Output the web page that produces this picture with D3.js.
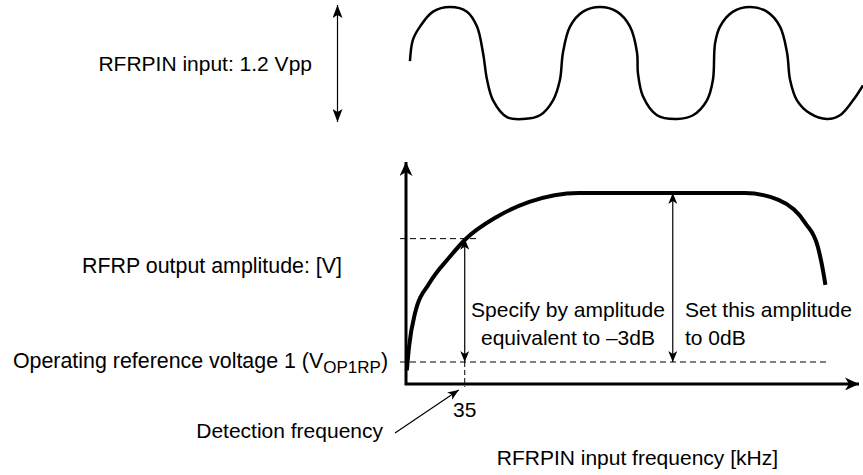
<!DOCTYPE html>
<html>
<head>
<meta charset="utf-8">
<script src="https://cdn.jsdelivr.net/npm/d3@7"></script>
<style>
  body { margin: 0; background: #fff; }
  text { font-family: Arial, "Liberation Sans", sans-serif; fill: #000; }
</style>
</head>
<body>
<div id="chart"></div>
<script>
const FRAME_WIDTH = 863;
const FRAME_HEIGHT = 475;

// input waveform, time in periods, volts
const INPUT_TIME = [-0.017, 0.003, 0.05, 0.137, 0.25, 0.363, 0.43, 0.47, 0.497, 0.537, 0.63, 0.737, 0.85, 0.937, 0.983,
                    1.003, 1.05, 1.137, 1.25, 1.363, 1.45, 1.497, 1.503, 1.537, 1.63, 1.763, 1.87, 1.963, 2.003,
                    2.017, 2.05, 2.137, 2.25, 2.363, 2.45, 2.497, 2.517, 2.563, 2.65, 2.763, 2.85, 2.937, 3.003];
const INPUT_VOLT = [0.02, 0.25, 0.39, 0.55, 0.6, 0.55, 0.39, 0.11, -0.18, -0.40, -0.58, -0.6, -0.56, -0.40, -0.18,
                    0.11, 0.39, 0.55, 0.6, 0.55, 0.39, 0.11, -0.11, -0.36, -0.56, -0.6, -0.56, -0.40, -0.18,
                    0.21, 0.39, 0.55, 0.6, 0.55, 0.39, 0.11, -0.18, -0.40, -0.54, -0.6, -0.56, -0.40, -0.24];

// output response: frequency (kHz, nominal) vs amplitude relative to 0dB level
const FREQ = [0.5, 1.8, 5.4, 14, 26, 35, 54, 73.5, 103, 202, 222, 238, 245.5, 248.5, 250];
const AMP  = [-0.05, 0.089, 0.29, 0.467, 0.621, 0.722, 0.858, 0.947, 1.0, 1.0, 0.959, 0.822, 0.68, 0.544, 0.456];

const REF_LEVEL = 0;       // V_OP1RP
const FULL_LEVEL = 1;      // 0dB
const DB3_LEVEL = 0.73;    // -3dB
const DETECT_FREQ = 35;
const FULL_FREQ = 159;
const X_TICK = ["35"];

const svg = d3.select("#chart")
  .append("svg")
    .attr("width", FRAME_WIDTH)
    .attr("height", FRAME_HEIGHT);

// arrowheads
const defs = svg.append("defs");
function marker(id, len, half, notch) {
  defs.append("marker")
      .attr("id", id)
      .attr("viewBox", `${-len} ${-half} ${len + 1} ${half * 2}`)
      .attr("refX", 0).attr("refY", 0)
      .attr("markerUnits", "userSpaceOnUse")
      .attr("markerWidth", len + 1).attr("markerHeight", half * 2)
      .attr("orient", "auto-start-reverse")
    .append("path")
      .attr("d", `M0,0 L${-len},${-half} L${-len + notch},0 L${-len},${half} Z`)
      .attr("fill", "#000");
}
marker("thin", 13, 5, 3);
marker("mid", 11, 4.5, 3);
marker("bold", 14, 6.5, 4);

// ---------- input waveform ----------
const T_SCALE = d3.scaleLinear().domain([0, 3]).range([412.5, 862.5]);
const V_SCALE = d3.scaleLinear().domain([-0.6, 0.6]).range([119, 7]);

svg.append("path")
  .datum(d3.range(INPUT_TIME.length))
  .attr("fill", "none")
  .attr("stroke", "#000")
  .attr("stroke-width", 2.5)
  .attr("d", d3.line()
      .x(i => T_SCALE(INPUT_TIME[i]))
      .y(i => V_SCALE(INPUT_VOLT[i]))
      .curve(d3.curveCatmullRom));

svg.append("line")
  .attr("x1", 337.5).attr("x2", 337.5)
  .attr("y1", V_SCALE(0.6) - 2).attr("y2", V_SCALE(-0.6) + 3)
  .attr("stroke", "#000").attr("stroke-width", 1.2)
  .attr("marker-start", "url(#thin)")
  .attr("marker-end", "url(#thin)");

svg.append("text")
  .attr("x", 312).attr("y", 71)
  .attr("text-anchor", "end")
  .attr("font-size", 21)
  .text("RFRPIN input: 1.2 Vpp");

// ---------- output response ----------
const X_SCALE = d3.scaleLinear().domain([0, 270]).range([406, 859]);
const Y_SCALE = d3.scaleLinear().domain([0, 1]).range([362, 193]);

const yBottom = Y_SCALE(-0.13);
const yTop = Y_SCALE(1.183);

// dashed guide lines
const dash = "6,4";
svg.append("line")
  .attr("x1", X_SCALE(0) - 6).attr("x2", X_SCALE(DETECT_FREQ) + 12)
  .attr("y1", Y_SCALE(DB3_LEVEL)).attr("y2", Y_SCALE(DB3_LEVEL))
  .attr("stroke", "#000").attr("stroke-dasharray", dash);
svg.append("line")
  .attr("x1", X_SCALE(0) - 6).attr("x2", X_SCALE(250) + 1)
  .attr("y1", Y_SCALE(REF_LEVEL)).attr("y2", Y_SCALE(REF_LEVEL))
  .attr("stroke", "#000").attr("stroke-dasharray", dash);
svg.append("line")
  .attr("x1", X_SCALE(DETECT_FREQ)).attr("x2", X_SCALE(DETECT_FREQ))
  .attr("y1", Y_SCALE(REF_LEVEL)).attr("y2", yBottom + 3)
  .attr("stroke", "#000").attr("stroke-dasharray", "5,3");

// axes
svg.append("path")
  .attr("d", `M${X_SCALE(0)},${yTop} L${X_SCALE(0)},${yBottom} L${X_SCALE(270)},${yBottom}`)
  .attr("fill", "none")
  .attr("stroke", "#000").attr("stroke-width", 3)
  .attr("marker-start", "url(#bold)")
  .attr("marker-end", "url(#bold)");

// response curve
svg.append("path")
  .datum(d3.range(FREQ.length))
  .attr("fill", "none")
  .attr("stroke", "#000")
  .attr("stroke-width", 4)
  .attr("d", d3.line()
      .x(i => X_SCALE(FREQ[i]))
      .y(i => Y_SCALE(AMP[i]))
      .curve(d3.curveMonotoneX));

// amplitude arrows
[[DETECT_FREQ, DB3_LEVEL], [FULL_FREQ, FULL_LEVEL]].forEach(([f, a]) => {
  svg.append("line")
    .attr("x1", X_SCALE(f)).attr("x2", X_SCALE(f))
    .attr("y1", Y_SCALE(a)).attr("y2", Y_SCALE(REF_LEVEL))
    .attr("stroke", "#000").attr("stroke-width", 1.2)
    .attr("marker-start", "url(#mid)")
    .attr("marker-end", "url(#mid)");
});

// detection frequency leader
svg.append("line")
  .attr("x1", 395).attr("y1", 433)
  .attr("x2", X_SCALE(DETECT_FREQ) - 6).attr("y2", yBottom + 6)
  .attr("stroke", "#000").attr("stroke-width", 1.2)
  .attr("marker-end", "url(#mid)");

// labels
const label = (x, y, s, anchor) => svg.append("text")
  .attr("x", x).attr("y", y)
  .attr("text-anchor", anchor || "start")
  .attr("font-size", 21)
  .text(s);

label(X_SCALE(DETECT_FREQ), 417, X_TICK[0], "middle");
label(212, 273, "RFRP output amplitude: [V]", "middle").attr("font-size", 21.4);
label(383, 438, "Detection frequency", "end");
label(568, 317, "Specify by amplitude", "middle");
label(568, 345, "equivalent to \u20133dB", "middle");
label(685, 317, "Set this amplitude");
label(685, 345, "to 0dB");
label(778, 465, "RFRPIN input frequency [kHz]", "end");

const op = svg.append("text")
  .attr("x", 388).attr("y", 368)
  .attr("text-anchor", "end")
  .attr("font-size", 21.4);
op.append("tspan").text("Operating reference voltage 1 (V");
op.append("tspan").attr("font-size", 17).attr("dy", 5).text("OP1RP");
op.append("tspan").attr("dy", -5).text(")");
</script>
</body>
</html>
